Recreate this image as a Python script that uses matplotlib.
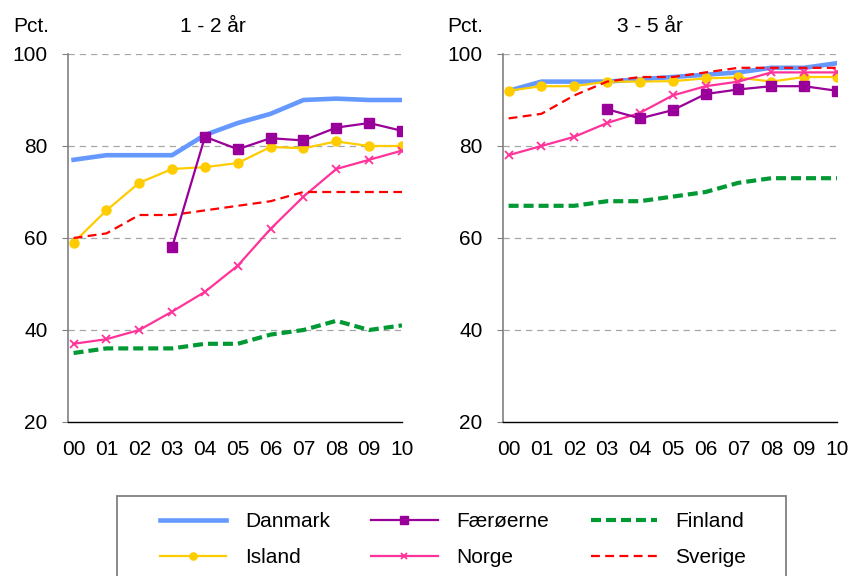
import matplotlib
matplotlib.use('Agg')
import matplotlib.pyplot as plt
import numpy as np
from matplotlib.patches import Rectangle

plt.rcParams['font.family'] = ['Liberation Sans', 'DejaVu Sans']

# år 2000-2010
years = ['00', '01', '02', '03', '04', '05', '06', '07', '08', '09', '10']

# 1 - 2 år
dk_12 = [77, 78, 78, 78, 82.4, 85, 87, 90, 90.3, 90, 90]
fo_12 = [None, None, None, 58, 82, 79.3, 81.7, 81.2, 84, 85, 83.3]
fi_12 = [35, 36, 36, 36, 37, 37, 39, 40, 42, 40, 41]
is_12 = [59, 66, 72, 75, 75.4, 76.3, 79.8, 79.5, 81, 80, 80]
no_12 = [37, 38, 40, 44, 48.3, 54, 62, 69, 75, 77, 79]
se_12 = [60, 61, 65, 65, 66, 67, 68, 70, 70, 70, 70]

# 3 - 5 år
dk_35 = [92, 94, 94, 94, 94.5, 95, 95.5, 96, 97, 97, 98]
fo_35 = [None, None, None, 88, 86, 87.8, 91.3, 92.3, 93, 93, 92]
fi_35 = [67, 67, 67, 68, 68, 69, 70, 72, 73, 73, 73]
is_35 = [92, 93, 93, 94, 94, 94.1, 94.7, 94.9, 94, 95, 95]
no_35 = [78, 80, 82, 85, 87.2, 91, 93, 94, 96, 96, 96]
se_35 = [86, 87, 91, 94, 95, 95, 96, 97, 97, 97, 97]

titles = ['1 - 2 år', '3 - 5 år']


def tegn(ax, dk, fo, fi, isl, no, se):
    x = np.arange(len(years))
    f = lambda v: np.array([np.nan if a is None else a for a in v], dtype=float)
    ax.plot(x, f(dk), color='#6699FF', lw=3.3, label='Danmark', zorder=3)
    ax.plot(x, f(fo), color='#990099', lw=1.6, marker='s', ms=6.5, label='Færøerne', zorder=4)
    ax.plot(x, f(fi), color='#009933', lw=3, ls=(0, (2.4, 1.2)), label='Finland', zorder=3)
    ax.plot(x, f(isl), color='#FFCC00', lw=1.6, marker='o', ms=6.5, label='Island', zorder=3)
    ax.plot(x, f(no), color='#FF3399', lw=1.6, marker='x', ms=6, mew=1.3, label='Norge', zorder=3)
    ax.plot(x, f(se), color='#FF0000', lw=1.6, ls=(0, (4, 2.4)), label='Sverige', zorder=3)

    ax.set_ylim(20, 100)
    ax.set_yticks([20, 40, 60, 80, 100])
    ax.set_xlim(-0.17, 10.0)
    ax.set_xticks(x)
    ax.set_xticklabels(years)
    ax.tick_params(axis='x', length=0, labelsize=15, pad=13)
    ax.tick_params(axis='y', length=4.3, labelsize=15, color='#808080', pad=10.5)
    for yv in [40, 60, 80, 100]:
        ax.axhline(yv, color='#A6A6A6', lw=0.9, ls=(0, (5, 4)), zorder=1)
    ax.spines['top'].set_visible(False)
    ax.spines['right'].set_visible(False)
    ax.spines['left'].set_color('#808080')
    ax.spines['left'].set_linewidth(1.2)
    ax.spines['bottom'].set_color('black')
    ax.spines['bottom'].set_linewidth(1)


fig = plt.figure(figsize=(8.5, 5.76), dpi=100)
ax1 = fig.add_axes([68 / 850, 1 - 422 / 576, 334 / 850, 368 / 576])
ax2 = fig.add_axes([503 / 850, 1 - 422 / 576, 334 / 850, 368 / 576])

tegn(ax1, dk_12, fo_12, fi_12, is_12, no_12, se_12)
tegn(ax2, dk_35, fo_35, fi_35, is_35, no_35, se_35)

fig.text(13 / 850, 1 - 27 / 576, 'Pct.', fontsize=15, va='center', ha='left')
fig.text(213 / 850, 1 - 27 / 576, titles[0], fontsize=15, va='center', ha='center')
fig.text(447 / 850, 1 - 27 / 576, 'Pct.', fontsize=15, va='center', ha='left')
fig.text(650 / 850, 1 - 27 / 576, titles[1], fontsize=15, va='center', ha='center')

# legendeboks
fig.patches.append(Rectangle((117 / 850, -0.05), 669 / 850, 0.05 + 1 - 496 / 576,
                             transform=fig.transFigure, fill=False,
                             edgecolor='#808080', lw=1.3))

h, l = ax1.get_legend_handles_labels()
# rækkefølge som i originalen: Danmark, Færøerne, Finland / Island, Norge, Sverige
order = [0, 3, 1, 4, 2, 5]
leg = fig.legend([h[i] for i in order], [l[i] for i in order], ncol=3,
                 loc='upper left', bbox_to_anchor=(160 / 850, 1 - 512 / 576),
                 fontsize=15, frameon=False, markerscale=0.8,
                 handlelength=3.17, handletextpad=0.9, columnspacing=2.0,
                 borderaxespad=0, borderpad=0, labelspacing=0.82)

fig.savefig('out.png', dpi=100)
